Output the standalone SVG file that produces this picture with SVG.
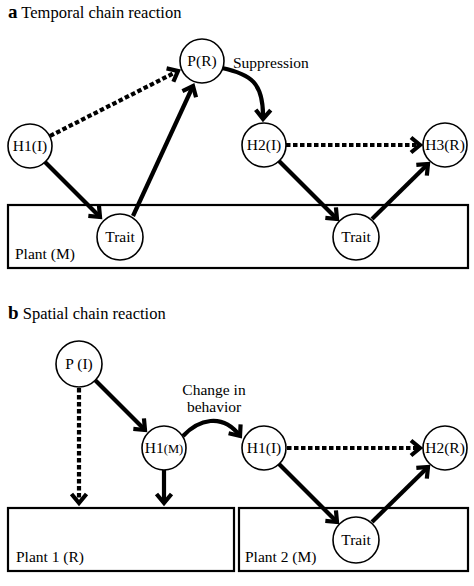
<svg xmlns="http://www.w3.org/2000/svg" width="474" height="586" viewBox="0 0 474 586" font-family="'Liberation Serif', 'DejaVu Serif', serif">
<defs>
<style>
.n{fill:#fff;stroke:#000;stroke-width:1.6}
.box{fill:#fff;stroke:#000;stroke-width:2.2}
text{font-family:'Liberation Serif','DejaVu Serif',serif;font-size:15.5px;fill:#000}
.c{text-anchor:middle}
.e{fill:none;stroke:#000;stroke-width:4.2}
.d{stroke-dasharray:4.5 2.5}
</style>
<marker id="ah" markerUnits="userSpaceOnUse" markerWidth="22" markerHeight="22" refX="0" refY="0" viewBox="-13 -11 15 22" orient="auto">
<path d="M-9,-7.5 L0,0 L-9,7.5" fill="none" stroke="#000" stroke-width="4.2" stroke-linejoin="miter"/>
</marker>
</defs>
<rect width="474" height="586" fill="#fff"/>

<text x="8" y="18" style="font-size:16.5px"><tspan font-weight="bold" style="font-size:19px">a</tspan> Temporal chain reaction</text>
<text x="8" y="319" style="font-size:16.5px"><tspan font-weight="bold" style="font-size:19px">b</tspan> Spatial chain reaction</text>

<g id="plantM"><rect class="box" x="8" y="205" width="460" height="63"/><text x="15" y="259">Plant (M)</text></g>
<g id="plant1"><rect class="box" x="8" y="508" width="226" height="63"/><text x="16" y="562">Plant 1 (R)</text></g>
<g id="plant2"><rect class="box" x="239" y="508" width="229" height="63"/><text x="245" y="562">Plant 2 (M)</text></g>

<g id="connectors">
<line class="e d" x1="50" y1="136" x2="178" y2="71" marker-end="url(#ah)"/>
<line class="e" x1="44" y1="161" x2="100" y2="217" marker-end="url(#ah)"/>
<line class="e" x1="133" y1="216" x2="193" y2="86" marker-end="url(#ah)"/>
<path class="e" d="M222,68 C250,74 264,82 263,119" marker-end="url(#ah)"/>
<line class="e d" x1="286" y1="145" x2="420" y2="145" marker-end="url(#ah)"/>
<line class="e" x1="278" y1="160" x2="337" y2="219" marker-end="url(#ah)"/>
<line class="e" x1="372" y1="219" x2="428" y2="164" marker-end="url(#ah)"/>

<line class="e d" x1="79" y1="388" x2="79" y2="503" marker-end="url(#ah)"/>
<line class="e" x1="95" y1="380" x2="145" y2="430" marker-end="url(#ah)"/>
<line class="e" x1="164" y1="470" x2="164" y2="503" marker-end="url(#ah)"/>
<path class="e" d="M183,436 C198,420 222,412 240,436" marker-end="url(#ah)"/>
<line class="e d" x1="287" y1="448" x2="420" y2="448" marker-end="url(#ah)"/>
<line class="e" x1="279" y1="464" x2="337" y2="522" marker-end="url(#ah)"/>
<line class="e" x1="372" y1="522" x2="428" y2="467" marker-end="url(#ah)"/>
</g>

<text x="233" y="68">Suppression</text>
<text class="c" x="214" y="395">Change in</text>
<text class="c" x="214" y="412">behavior</text>

<g id="PR"><circle class="n" cx="202" cy="61" r="22"/><text class="c" x="202" y="66">P(R)</text></g>
<g id="H1I_a"><circle class="n" cx="30" cy="146" r="22"/><text class="c" x="30" y="151">H1(I)</text></g>
<g id="H2I"><circle class="n" cx="264" cy="145" r="22"/><text class="c" x="264" y="150">H2(I)</text></g>
<g id="H3R"><circle class="n" cx="445" cy="145" r="22"/><text class="c" x="445" y="150">H3(R)</text></g>
<g id="Trait_a1"><circle class="n" cx="120" cy="237" r="23"/><text class="c" x="120" y="242">Trait</text></g>
<g id="Trait_a2"><circle class="n" cx="356" cy="237" r="23"/><text class="c" x="356" y="242">Trait</text></g>

<g id="PI"><circle class="n" cx="79" cy="364" r="23"/><text class="c" x="79" y="369">P (I)</text></g>
<g id="H1M"><circle class="n" cx="164" cy="448" r="22"/><text class="c" x="164" y="453"><tspan>H1</tspan><tspan style="font-size:12.5px">(M)</tspan></text></g>
<g id="H1I_b"><circle class="n" cx="264" cy="448" r="22"/><text class="c" x="264" y="453">H1(I)</text></g>
<g id="H2R"><circle class="n" cx="445" cy="448" r="22"/><text class="c" x="445" y="453">H2(R)</text></g>
<g id="Trait_b"><circle class="n" cx="356" cy="540" r="23"/><text class="c" x="356" y="545">Trait</text></g>
</svg>
